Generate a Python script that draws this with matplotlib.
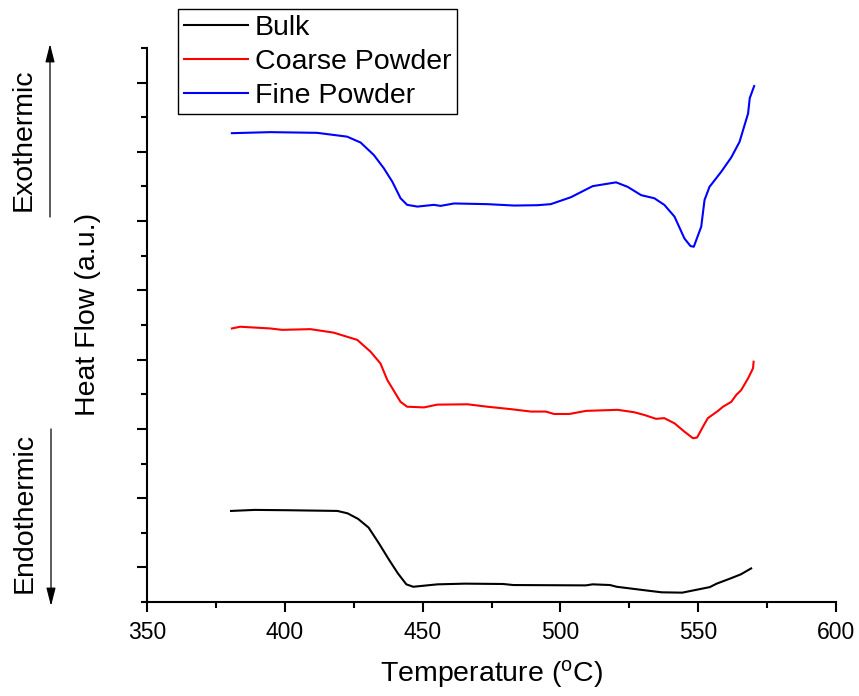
import matplotlib
matplotlib.use("Agg")
import matplotlib.pyplot as plt
from matplotlib.ticker import MultipleLocator, NullFormatter

plt.rcParams['font.family'] = ['Liberation Sans', 'DejaVu Sans']
plt.rcParams['mathtext.fontset'] = 'custom'
plt.rcParams['mathtext.rm'] = 'Liberation Sans'
plt.rcParams['mathtext.it'] = 'Liberation Sans:italic'

# ---- data (temperature in °C, heat flow in arbitrary units) ----
bulk_T = [380.5, 389.1, 401.6, 419.1, 422.8, 426.6, 430.4, 434.1, 437.9, 441.0, 444.1,
          446.6, 455.4, 465.4, 479.2, 482.9, 509.2, 511.7, 518.0, 520.4, 530.5, 536.7,
          544.2, 549.2, 554.2, 556.7, 561.7, 565.5, 569.2]
bulk_H = [2.63, 2.66, 2.65, 2.63, 2.56, 2.40, 2.15, 1.70, 1.21, 0.83, 0.51,
          0.44, 0.51, 0.53, 0.52, 0.49, 0.48, 0.51, 0.49, 0.44, 0.34, 0.28,
          0.27, 0.35, 0.43, 0.53, 0.68, 0.80, 0.97]

coarse_T = [380.8, 383.8, 394.7, 399.0, 409.3, 417.7, 426.3, 431.1, 434.7, 437.2, 442.0,
            444.4, 450.5, 455.3, 466.3, 473.5, 482.0, 489.3, 494.7, 497.7, 503.2, 509.3,
            520.8, 526.8, 530.5, 534.7, 537.7, 541.4, 545.0, 548.1, 549.6, 551.7, 553.5,
            557.2, 559.0, 562.0, 563.8, 565.6, 568.1, 569.9, 570.1]
coarse_H = [7.90, 7.95, 7.90, 7.86, 7.88, 7.78, 7.57, 7.23, 6.89, 6.41, 5.78,
            5.64, 5.62, 5.70, 5.71, 5.64, 5.57, 5.50, 5.50, 5.43, 5.43, 5.52,
            5.55, 5.48, 5.40, 5.29, 5.31, 5.16, 4.92, 4.73, 4.75, 5.06, 5.31,
            5.52, 5.64, 5.78, 5.98, 6.12, 6.46, 6.75, 6.94]

fine_T = [380.8, 394.7, 411.7, 422.6, 427.5, 432.3, 435.9, 439.0, 442.0, 444.4, 448.1,
          454.1, 456.5, 461.4, 473.5, 483.2, 491.7, 496.5, 503.8, 511.7, 520.2, 524.4,
          529.3, 534.1, 537.7, 541.4, 545.0, 547.2, 548.4, 551.1, 552.3, 554.1, 558.4,
          562.0, 565.0, 568.1, 568.7, 570.3]
fine_H = [13.54, 13.57, 13.55, 13.44, 13.27, 12.91, 12.53, 12.14, 11.66, 11.47, 11.42,
          11.47, 11.44, 11.51, 11.49, 11.45, 11.46, 11.49, 11.69, 12.01, 12.12, 11.99,
          11.75, 11.66, 11.47, 11.13, 10.50, 10.28, 10.26, 10.84, 11.61, 11.99, 12.43,
          12.84, 13.29, 14.11, 14.55, 14.90]

labels = ["Bulk", "Coarse Powder", "Fine Powder"]
colors = ["black", "red", "blue"]

W, H = 859, 696
fig = plt.figure(figsize=(W / 100, H / 100), dpi=100)
ax = fig.add_axes([147 / W, 1 - 602 / H, (836 - 147) / W, (602 - 48) / H])

for T, Hf, lab, c in zip([bulk_T, coarse_T, fine_T], [bulk_H, coarse_H, fine_H], labels, colors):
    ax.plot(T, Hf, color=c, lw=1.5, label=lab)

ax.set_xlim(350, 600)
ax.set_ylim(0, 16)
ax.xaxis.set_major_locator(MultipleLocator(50))
ax.xaxis.set_minor_locator(MultipleLocator(25))
ax.set_yticks([1, 3, 5, 7, 9, 11, 13, 15])
ax.set_yticks([0, 2, 4, 6, 8, 10, 12, 14, 16], minor=True)
ax.yaxis.set_major_formatter(NullFormatter())

for s in ['top', 'right']:
    ax.spines[s].set_visible(False)
for s in ['left', 'bottom']:
    ax.spines[s].set_linewidth(1.5)
ax.tick_params(which='major', direction='out', length=7.5, width=1.5, labelsize=16.5, pad=6)
ax.tick_params(which='minor', direction='out', length=4, width=1.5)

ax.set_xlabel(r'Temperature ($^{\rm o}$C)', fontsize=20.5, labelpad=10)
fig.text(88 / W, 1 - 314 / H, 'Heat Flow (a.u.)', rotation=90, fontsize=20.5,
         ha='center', va='center')

fig.text(24 / W, 1 - 140 / H, 'Exothermic', rotation=90, fontsize=20.5, ha='center', va='center')
fig.text(25 / W, 1 - 513 / H, 'Endothermic', rotation=90, fontsize=20.5, ha='center', va='center')

arrow_kw = dict(arrowstyle='-|>,head_length=0.55,head_width=0.14', color='black', lw=0.9,
                shrinkA=0, shrinkB=0)
fig.patches.append(matplotlib.patches.FancyArrowPatch((50 / W, 1 - 217 / H), (50 / W, 1 - 44 / H),
                                                      transform=fig.transFigure, mutation_scale=20,
                                                      **arrow_kw))
fig.patches.append(matplotlib.patches.FancyArrowPatch((51 / W, 1 - 429 / H), (51 / W, 1 - 606 / H),
                                                      transform=fig.transFigure, mutation_scale=20,
                                                      **arrow_kw))

leg = ax.legend(loc='upper left', bbox_to_anchor=(178 / W, 1 - 9 / H),
                bbox_transform=fig.transFigure, borderaxespad=0, fontsize=20.5,
                frameon=True, fancybox=False, framealpha=1, edgecolor='black',
                borderpad=0.2, labelspacing=0.28, handlelength=2.25, handletextpad=0.25)
leg.get_frame().set_linewidth(1.0)

fig.savefig('out.png', dpi=100)
